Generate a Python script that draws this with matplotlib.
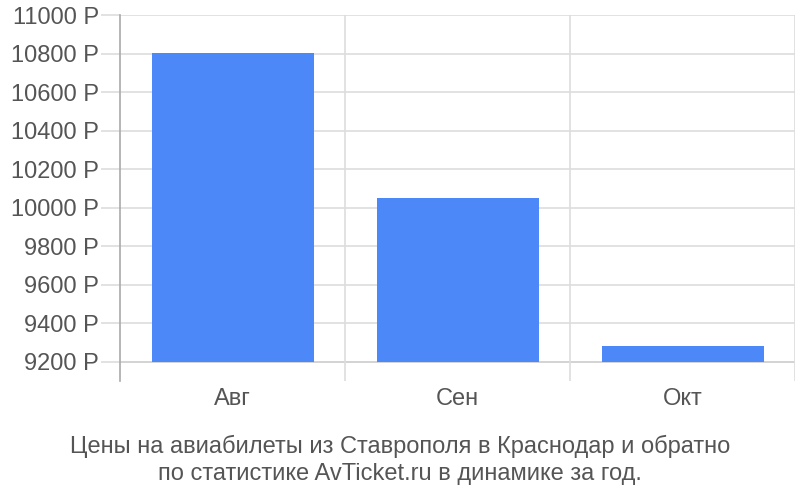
import matplotlib.pyplot as plt

# Data
months = ['Авг', 'Сен', 'Окт']
prices = [10805, 10050, 9280]
base = 9200
yticks = [9200, 9400, 9600, 9800, 10000, 10200, 10400, 10600, 10800, 11000]

plt.rcParams['font.family'] = ['Liberation Sans', 'DejaVu Sans']

fig = plt.figure(figsize=(8, 5), dpi=100)
ax = fig.add_axes([0.15, 0.238, 0.84375, 0.732])

x = range(len(months))
ax.bar(x, [p - base for p in prices], bottom=base, width=0.72, color='#4d88f8', zorder=3)

ax.set_xlim(-0.5, len(months) - 0.5)
ax.set_ylim(9100, 11000)

# grid
for y in yticks:
    ax.axhline(y, color='#cccccc' if y == base else '#dddddd', lw=1.2, zorder=1)
for xv in [0.5, 1.5, 2.5]:
    ax.axvline(xv, color='#dddddd', lw=1.2, zorder=1)

ax.set_yticks(yticks)
ax.set_yticklabels([f'{v} Р' for v in yticks])
ax.set_xticks(list(x))
ax.set_xticklabels(months)
ax.tick_params(axis='y', length=14, color='#dddddd', width=1.2, pad=1, labelsize=17, labelcolor='#555555')
ax.tick_params(axis='x', length=0, pad=5, labelsize=17, labelcolor='#555555')

for s in ['top', 'right', 'bottom']:
    ax.spines[s].set_visible(False)
ax.spines['left'].set_color('#aaaaaa')
ax.spines['left'].set_linewidth(1.2)

fig.text(0.5, 0.08, 'Цены на авиабилеты из Ставрополя в Краснодар и обратно\nпо статистике AvTicket.ru в динамике за год.',
         ha='center', va='center', fontsize=17, color='#555555', linespacing=1.3)

fig.savefig('out.png', dpi=100)
